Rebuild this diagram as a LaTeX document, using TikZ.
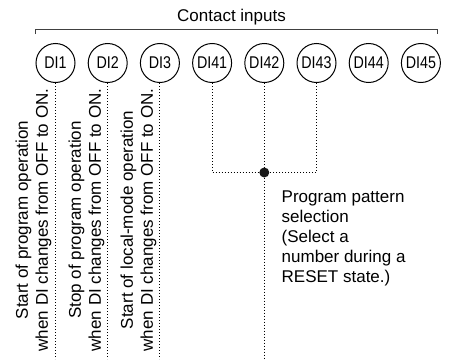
\documentclass[tikz,border=0pt]{standalone}
\usepackage{fontspec}
\setmainfont{Liberation Sans}
\newfontfamily\narrowfont[FakeStretch=0.84]{Liberation Sans}
\usetikzlibrary{positioning}

\begin{document}
\begin{tikzpicture}[
  x=1pt, y=-1pt,
  node distance=12.2pt,
  di/.style={draw, circle, line width=1pt, minimum size=39pt, inner sep=0pt,
    font=\narrowfont\fontsize{17}{17}\selectfont},
  sig/.style={line width=1pt, dash pattern=on 1.1pt off 1.9pt},
  note/.style={rotate=90, anchor=south, inner sep=0pt, align=center,
    font=\fontsize{17}{20}\selectfont},
  dot/.style={circle, fill=black!90, inner sep=0pt, minimum size=10pt}
]
\useasboundingbox (0,0) rectangle (450,359);
\coordinate (bot) at (0,359);
\coordinate (lvl) at (0,172.5);
% contact inputs
\node[di] (di1) at (55.5,63) {DI1};
\node[di, right=of di1] (di2) {DI2};
\node[di, right=of di2] (di3) {DI3};
\node[di, right=of di3] (di41) {DI41};
\node[di, right=of di41] (di42) {DI42};
\node[di, right=of di42] (di43) {DI43};
\node[di, right=of di43] (di44) {DI44};
\node[di, right=of di44] (di45) {DI45};
\node[anchor=base, font=\fontsize{17}{20}\selectfont] (title) at (231.5,21.5) {Contact inputs};
\coordinate (brl) at (35,34);
\coordinate (brr) at (437,34);
\draw[line width=1pt, black!75] (brl) -- ++(0,-5) -| (brr);
% single inputs
\draw[sig] (di1) -- (di1 |- bot);
\draw[sig] (di2) -- (di2 |- bot);
\draw[sig] (di3) -- (di3 |- bot);
\node[note] (t1) at (51.5,220) {Start of program operation\\when DI changes from OFF to ON.};
\node[note] (t2) at (104.5,220) {Stop of program operation\\when DI changes from OFF to ON.};
\node[note] (t3) at (156.5,220) {Start of local-mode operation\\when DI changes from OFF to ON.};
% pattern selection
\node[dot] (sel) at (di42 |- lvl) {};
\draw[sig] (di41) -- (di41 |- sel) -- (sel);
\draw[sig] (di43) -- (di43 |- sel) -- (sel);
\draw[sig] (di42) -- (sel) -- (di42 |- bot);
\node[anchor=north west, inner sep=0pt, align=left, font=\fontsize{17}{20}\selectfont]
  (ptxt) at (281.5,191) {Program pattern\\selection\\(Select a\\number during a\\RESET state.)};
\end{tikzpicture}
\end{document}
